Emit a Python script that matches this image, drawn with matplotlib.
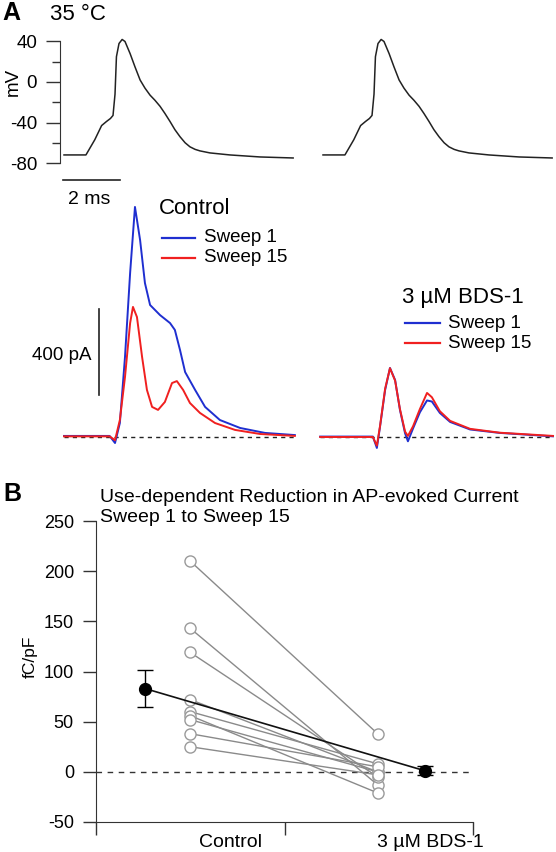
import matplotlib
matplotlib.use("Agg")
import matplotlib.pyplot as plt

plt.rcParams["font.family"] = ["Liberation Sans", "DejaVu Sans"]
plt.rcParams["axes.unicode_minus"] = False

W, H = 556, 852

# ---- A: action potential (ms, mV) ----
ap_t  = [0.0, 0.77, 1.08, 1.32, 1.49, 1.63, 1.72, 1.79, 1.84, 1.93, 2.04, 2.14, 2.32,
         2.49, 2.67, 2.84, 3.02, 3.19, 3.37, 3.54, 3.72, 3.89, 4.07, 4.25, 4.42,
         4.60, 4.77, 5.12, 5.82, 6.88, 8.04]
ap_mv = [-72, -72, -57, -43, -39, -36, -33, -12, 25, 38, 42, 40, 28,
         15, 2, -6, -13, -18, -24, -31, -39, -47, -54, -60, -64,
         -66.5, -68, -70, -72, -74, -75]

# ---- A: AP-evoked current (ms, pA) ----
ctrl_s1_t  = [0.0, 1.60, 1.79, 1.96, 2.14, 2.32, 2.49, 2.67, 2.84, 3.02, 3.37, 3.72,
              3.89, 4.07, 4.25, 4.60, 4.95, 5.47, 6.18, 7.05, 8.10]
ctrl_s1_pa = [5, 5, -28, 65, 372, 763, 1070, 916, 716, 614, 567, 530,
              498, 405, 302, 219, 140, 79, 42, 19, 9]
ctrl_s15_t  = [0.0, 1.60, 1.79, 1.96, 2.14, 2.32, 2.42, 2.56, 2.74, 2.91, 3.09, 3.30,
               3.54, 3.79, 3.96, 4.18, 4.42, 4.77, 5.30, 6.00, 6.88, 8.10]
ctrl_s15_pa = [3, 3, -15, 79, 279, 530, 605, 558, 372, 219, 140, 126,
               163, 251, 260, 219, 158, 112, 65, 33, 14, 5]

bds_s1_t  = [-0.1, 1.75, 1.89, 2.00, 2.18, 2.35, 2.53, 2.70, 2.88, 2.98, 3.16, 3.40,
             3.65, 3.82, 4.10, 4.46, 5.16, 6.20, 8.07]
bds_s1_pa = [2, 2, -51, 47, 219, 321, 265, 126, 17, -20, 40, 115,
             170, 165, 112, 70, 35, 19, 3]
bds_s15_t  = bds_s1_t
bds_s15_pa = [0, 0, -40, 50, 225, 320, 262, 130, 25, 5, 50, 130,
              205, 185, 120, 75, 38, 20, 5]

# ---- B: charge per sweep pair (fC/pF) ----
ctrl_vals = [210, 143, 119, 72, 60, 56, 52, 38, 25]
bds_vals  = [38, -13, -5, 0, 8, -21, 0, 5, -3]
ctrl_mean, ctrl_err = 83, 18
bds_mean, bds_err = 1, 4.5
group_labels = ["Control", "3 \u00b5M BDS-1"]

# pixel calibration of the reference layout
MS_PX, T0_PX = 28.5, 64
MV_PX, MV0_PX = 1.013, 82
PA_PX, PA0_PX = 0.215, 437
SHIFT = 259 / MS_PX      # second column offset (ms)

BLUE = "#1f2fd0"
RED = "#f02020"


def px_axes(fig, left, top, right, bottom):
    return fig.add_axes([left / W, 1 - bottom / H, (right - left) / W, (bottom - top) / H])


fig = plt.figure(figsize=(W / 100, H / 100), dpi=100)

# ---- AP traces ----
ax = px_axes(fig, 60, 30, 556, 210)
ax.set_xlim((60 - T0_PX) / MS_PX, (556 - T0_PX) / MS_PX)
ax.set_ylim((MV0_PX - 210) / MV_PX, (MV0_PX - 30) / MV_PX)
ax.plot(ap_t, ap_mv, color="#222222", lw=1.1)
ax.plot([t + SHIFT for t in ap_t], ap_mv, color="#222222", lw=1.1)
for s in ["top", "right", "bottom"]:
    ax.spines[s].set_visible(False)
ax.spines["left"].set_bounds(-80, 40)
ax.spines["left"].set_color("#333333")
ax.set_xticks([])
ax.set_yticks([40, 0, -40, -80])
ax.set_yticks([20, -20, -60], minor=True)
ax.tick_params(axis="y", which="major", length=10, width=1, labelsize=13.5, pad=6.5, color="#333333")
ax.tick_params(axis="y", which="minor", length=5.5, width=1, color="#333333")
ax.set_ylabel("mV", fontsize=13.5)
ax.yaxis.set_label_coords(-0.077, (210 - 82) / 180)
ax.patch.set_alpha(0)
# 2 ms scale bar
ax.plot([-0.04, 1.96], [(MV0_PX - 180) / MV_PX] * 2, color="#222222", lw=1.2, clip_on=False)

# ---- current traces ----
ac = px_axes(fig, 60, 195, 556, 465)
ac.set_xlim((60 - T0_PX) / MS_PX, (556 - T0_PX) / MS_PX)
ac.set_ylim((PA0_PX - 465) / PA_PX, (PA0_PX - 195) / PA_PX)
ac.axis("off")
ac.plot([0, 8.1], [0, 0], color="#222222", lw=1, ls=(0, (3, 3)), zorder=1)
ac.plot([SHIFT - 0.1, SHIFT + 8.0], [0, 0], color="#222222", lw=1, ls=(0, (3, 3)), zorder=1)
ac.plot(ctrl_s1_t, ctrl_s1_pa, color=BLUE, lw=1.4, zorder=2)
ac.plot(ctrl_s15_t, ctrl_s15_pa, color=RED, lw=1.4, zorder=3)
ac.plot([t + SHIFT for t in bds_s1_t], bds_s1_pa, color=BLUE, lw=1.4, zorder=2)
ac.plot([t + SHIFT for t in bds_s15_t], bds_s15_pa, color=RED, lw=1.4, zorder=3)
# 400 pA scale bar
ac.plot([1.23, 1.23], [195, 595], color="#222222", lw=1.2, clip_on=False)

# ---- B: summary ----
ab = px_axes(fig, 96, 521, 473, 822)
ab.set_xlim(0, 1)
ab.set_ylim(-50, 250)
ab.axhline(0, color="#333333", lw=1, ls=(0, (4, 4)), zorder=1)
for c, b in zip(ctrl_vals, bds_vals):
    ab.plot([0.25, 0.747], [c, b], color="#8a8a8a", lw=1, zorder=2)
ab.plot([0.25] * len(ctrl_vals), ctrl_vals, "o", ms=8, mfc="white", mec="#9a9a9a", mew=1, zorder=3)
ab.plot([0.747] * len(bds_vals), bds_vals, "o", ms=8, mfc="white", mec="#9a9a9a", mew=1, zorder=3)
ab.plot([0.13, 0.873], [ctrl_mean, bds_mean], color="#111111", lw=1.2, zorder=4)
ab.errorbar([0.13, 0.873], [ctrl_mean, bds_mean], yerr=[ctrl_err, bds_err], fmt="o",
            color="black", ms=8.5, capsize=6, elinewidth=1, capthick=1, zorder=5)
for s in ["top", "right"]:
    ab.spines[s].set_visible(False)
for s in ["left", "bottom"]:
    ab.spines[s].set_color("#333333")
ab.set_yticks([-50, 0, 50, 100, 150, 200, 250])
ab.set_xticks([0, 0.5, 1])
ab.set_xticklabels([])
ab.tick_params(axis="both", length=9.4, width=1, labelsize=13, pad=6.5, color="#333333")
ab.set_ylabel("fC/pF", fontsize=12.5)
ab.yaxis.set_label_coords(-0.155, (822 - 657) / 301)
ab.text(0.358, -0.068, group_labels[0], transform=ab.transAxes, ha="center", va="center", fontsize=14)
ab.text(0.886, -0.068, group_labels[1], transform=ab.transAxes, ha="center", va="center", fontsize=14)
ab.patch.set_alpha(0)

# ---- overlay for labels and legends (pixel coordinates) ----
ov = fig.add_axes([0, 0, 1, 1], zorder=10)
ov.set_xlim(0, W)
ov.set_ylim(H, 0)
ov.axis("off")
ov.patch.set_alpha(0)

ov.text(2, 13, "A", fontsize=18, fontweight="bold", va="center")
ov.text(50, 14, "35 \u00b0C", fontsize=16, va="center")
ov.text(89, 199, "2 ms", fontsize=14, ha="center", va="center")
ov.text(91, 355, "400 pA", fontsize=13.5, ha="right", va="center")

ov.text(159, 208, "Control", fontsize=16, va="center")
ov.plot([162, 195], [238, 238], color=BLUE, lw=1.6)
ov.plot([162, 195], [258, 258], color=RED, lw=1.6)
ov.text(204, 238, "Sweep 1", fontsize=13.5, va="center")
ov.text(204, 258, "Sweep 15", fontsize=13.5, va="center")

ov.text(402, 297, "3 \u00b5M BDS-1", fontsize=16, va="center")
ov.plot([405, 440], [323, 323], color=BLUE, lw=1.6)
ov.plot([405, 440], [343, 343], color=RED, lw=1.6)
ov.text(448, 323, "Sweep 1", fontsize=13.5, va="center")
ov.text(448, 343, "Sweep 15", fontsize=13.5, va="center")

ov.text(3, 494, "B", fontsize=18, fontweight="bold", va="center")
ov.text(100, 498, "Use-dependent Reduction in AP-evoked Current", fontsize=14, va="center")
ov.text(100, 518, "Sweep 1 to Sweep 15", fontsize=14, va="center")

fig.savefig("out.png", dpi=100)
